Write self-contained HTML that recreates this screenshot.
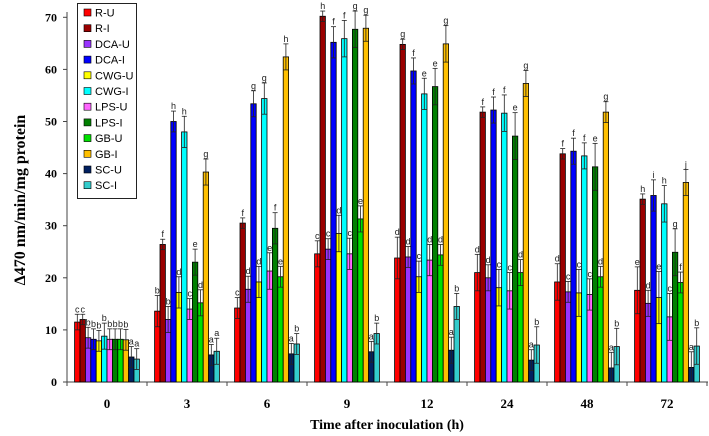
<!DOCTYPE html>
<html><head><meta charset="utf-8"><style>
body{margin:0;background:#fff;width:709px;height:436px;overflow:hidden}
svg{display:block}
</style></head><body>
<svg id="chart" width="709" height="436" xmlns="http://www.w3.org/2000/svg"></svg>
<script>
const categories=["0","3","6","9","12","24","48","72"];
const seriesNames=["R-U","R-I","DCA-U","DCA-I","CWG-U","CWG-I","LPS-U","LPS-I","GB-U","GB-I","SC-U","SC-I"];
const colors=["#ff0000","#990000","#9933ff","#0000ff","#ffff00","#00ffff","#ff66ff","#008000","#00e000","#ffc000","#002060","#33cccc"];
const v0=[11.5,12,8.5,8.2,7.9,8.8,8.2,8.2,8.2,8.1,4.8,4.4];
const v3=[13.6,26.4,12,50,17.2,48,14,23,15.2,40.3,5.2,5.9];
const v6=[14.2,30.5,17.8,53.4,19.2,54.4,21.3,29.5,20.2,62.4,5.4,7.3];
const v9=[24.6,70.2,25.5,65.2,28.5,65.9,24.6,67.7,31.3,67.9,5.8,9.3];
const v12=[23.8,64.8,24,59.7,20.2,55.3,23.4,56.7,24.4,64.9,6.1,14.5];
const v24=[21,51.8,20,52.2,18.1,51.6,17.5,47.2,21,57.3,4.2,7.1];
const v48=[19.2,43.8,17.3,44.3,17.1,43.4,16.8,41.3,20.2,51.8,2.7,6.8];
const v72=[17.6,35.1,15.1,35.8,16.2,34.2,12.5,24.9,19.1,38.3,2.8,6.9];
const values=[v0,v3,v6,v9,v12,v24,v48,v72];
const e0=[1.5,1,2,2,2,2.5,2,2,2,2,2,2];
const e3=[3,1,2.5,2,3,3,2,2.5,2.5,2.5,2,2.5];
const e6=[2,1,2.5,2.5,3,3,3.5,3,2,2.5,2,2];
const e9=[2.5,1,2,3,3.5,3.5,3,3.5,2.5,2.5,2,2];
const e12=[4,1,2,2.5,3,3,3,3.5,2,3.5,2.5,2.5];
const e24=[3.5,1,2.5,2.5,3.5,3.5,3.5,4.5,2.5,2.5,2,3.5];
const e48=[3.5,1,2,2.5,4.5,2.5,3,4.5,2,2,3,3.5];
const e72=[4.5,1,2.5,3,5,3.5,4.5,4.5,2,2.5,3,3.5];
const errors=[e0,e3,e6,e9,e12,e24,e48,e72];
const l0=["c","c","b","b","b","b","b","b","b","b","a","a"];
const l3=["b","f","b","h","d","h","c","e","d","g","a","a"];
const l6=["c","f","d","g","d","g","e","f","e","h","a","b"];
const l9=["c","h","c","f","d","f","c","g","e","g","a","b"];
const l12=["d","g","d","f","c","e","d","e","d","g","a","b"];
const l24=["d","f","d","f","c","f","c","e","d","g","a","b"];
const l48=["d","f","c","f","c","f","c","e","d","g","a","b"];
const l72=["e","h","d","i","e","h","c","g","f","j","a","b"];
const letters=[l0,l3,l6,l9,l12,l24,l48,l72];
const yTicks=[0,10,20,30,40,50,60,70];

const svg=document.getElementById('chart');
const NS="http://www.w3.org/2000/svg";
const x0=67,gw=80,y0=382,yTop=17.3,yMax=70,bw=5.4;
const y=v=>y0-(v/yMax)*(y0-yTop);
const gx=i=>x0+i*gw;
const bx=(i,j)=>gx(i)+gw/2-6*bw+j*bw;
function mk(t,a,p){const e=document.createElementNS(NS,t);for(const k in a)e.setAttribute(k,a[k]);(p||svg).appendChild(e);return e;}

// axes
const ax=mk('g',{});


mk('line',{x1:x0,y1:y0,x2:x0,y2:12,stroke:'#444','stroke-width':1},ax);
mk('line',{x1:x0,y1:y0,x2:708,y2:y0,stroke:'#444','stroke-width':1},ax);
yTicks.forEach(t=>{
  mk('line',{x1:x0-4,y1:y(t),x2:x0,y2:y(t),stroke:'#444'},ax);
  const tx=mk('text',{x:x0-10,y:y(t)+4,'text-anchor':'end','font-family':'Liberation Serif, serif','font-weight':'bold','font-size':12},ax);
  tx.textContent=t;
  
  
});
for(let i=0;i<=categories.length;i++){mk('line',{x1:gx(i),y1:y0,x2:gx(i),y2:y0+4,stroke:'#444'},ax);}
categories.forEach((c,i)=>{
  const tx=mk('text',{x:gx(i)+gw/2,y:408,'text-anchor':'middle','font-family':'Liberation Serif, serif','font-weight':'bold','font-size':13},ax);
  tx.textContent=c;
  
  
});
const yt=mk('text',{x:0,y:0,transform:'translate(25,200) rotate(-90)','text-anchor':'middle','font-family':'Liberation Serif, serif','font-weight':'bold','font-size':16});
yt.textContent='Δ470 nm/min/mg protein';


const xt=mk('text',{x:387,y:429,'text-anchor':'middle','font-family':'Liberation Serif, serif','font-weight':'bold','font-size':14});
xt.textContent='Time after inoculation (h)';



// bars
values.forEach((grp,i)=>{
  grp.forEach((v,j)=>{
    const x=bx(i,j),top=y(v);
    const r=mk('rect',{x:x,y:top,width:bw,height:y0-top,fill:colors[j],stroke:'#000','stroke-width':0.8});
    
    
    const e=errors[i][j],cx=x+bw/2,hi=y(v+e),lo=y(Math.max(0,v-e));
    mk('line',{x1:cx,y1:hi,x2:cx,y2:lo,stroke:'#222','stroke-width':0.8});
    mk('line',{x1:cx-2.5,y1:hi,x2:cx+2.5,y2:hi,stroke:'#222','stroke-width':0.8});
    mk('line',{x1:cx-2.5,y1:lo,x2:cx+2.5,y2:lo,stroke:'#222','stroke-width':0.8});
    const lt=mk('text',{x:cx,y:hi-2,'text-anchor':'middle','font-family':'Liberation Sans, sans-serif','font-size':9,fill:'#222'});
    lt.textContent=letters[i][j];
    
    
  });
});

// legend
const lg=mk('g',{});


mk('rect',{x:77.5,y:3.5,width:59,height:195,fill:'#fff',stroke:'#222','stroke-width':1},lg);
seriesNames.forEach((n,j)=>{
  const g=mk('g',{},lg);
  
  
  const yy=13+j*15.7;
  mk('rect',{x:84,y:yy-4,width:7,height:7,fill:colors[j],stroke:'#000','stroke-width':0.6},g);
  const t=mk('text',{x:95,y:yy+3.5,'font-family':'Liberation Sans, sans-serif','font-size':11,fill:'#000'},g);
  t.textContent=n;
});
</script>
</body></html>
